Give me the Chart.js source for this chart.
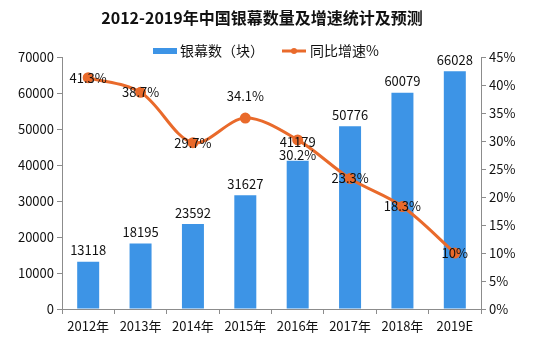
<!DOCTYPE html>
<html><head><meta charset="utf-8">
<script src="https://cdn.jsdelivr.net/npm/chart.js@4.4.0/dist/chart.umd.min.js"></script>
<style>html,body{margin:0;padding:0;background:#fff}#c{display:block}</style>
</head><body>
<canvas id="c" width="545" height="360"></canvas>
<script>
const categories = ['2012年','2013年','2014年','2015年','2016年','2017年','2018年','2019E'];
const screens = [13118,18195,23592,31627,41179,50776,60079,66028];
const growth = [41.3,38.7,29.7,34.1,30.2,23.3,18.3,10];
const growthLabels = ['41.3%','38.7%','29.7%','34.1%','30.2%','23.3%','18.3%','10%'];
const leftTicks = [0,10000,20000,30000,40000,50000,60000,70000];
const rightTicks = [0,5,10,15,20,25,30,35,40,45];

const FONT = '"Noto Sans CJK SC", "DejaVu Sans", sans-serif';
const BLUE = '#3D94E6';
const ORANGE = '#E96A2B';
const AX = '#8c8c8c';

const labelPlugin = {
  id:'labels',
  afterDatasetsDraw(chart){
    const ctx = chart.ctx;
    ctx.save();
    ctx.fillStyle = '#111';
    ctx.font = '13px ' + FONT;
    ctx.textAlign = 'center';
    const bm = chart.getDatasetMeta(0);
    const boffs = [0,0,0,0,-7,0,0,0];
    bm.data.forEach((el,i)=>{
      ctx.textBaseline = 'bottom';
      ctx.fillText(String(screens[i]), el.x, el.y - 5 + boffs[i]);
    });
    const lm = chart.getDatasetMeta(1);
    const offs = [0,0,0,-22,15,0,0,0];
    lm.data.forEach((el,i)=>{
      ctx.textBaseline = 'middle';
      ctx.fillText(growthLabels[i], el.x, el.y + offs[i]);
    });
    // legend
    ctx.font = '14px ' + FONT;
    ctx.textAlign = 'left';
    ctx.fillStyle = BLUE;
    ctx.fillRect(153, 48, 24, 6);
    ctx.fillStyle = '#111';
    ctx.fillText('银幕数（块）', 180, 51);
    ctx.strokeStyle = ORANGE; ctx.lineWidth = 3;
    ctx.beginPath(); ctx.moveTo(282,51); ctx.lineTo(306,51); ctx.stroke();
    ctx.fillStyle = ORANGE;
    ctx.beginPath(); ctx.arc(294,51,3,0,Math.PI*2); ctx.fill();
    ctx.fillStyle = '#111';
    ctx.fillText('同比增速%', 310, 51);
    // title
    ctx.font = 'bold 16px ' + FONT;
    ctx.textAlign = 'center';
    ctx.fillText('2012-2019年中国银幕数量及增速统计及预测', 262, 18);
    ctx.restore();
  }
};

new Chart(document.getElementById('c'), {
  data:{
    labels: categories,
    datasets:[
      {type:'bar', data: screens, backgroundColor: BLUE, yAxisID:'y', categoryPercentage:1, barPercentage:0.42, order:2},
      {type:'line', data: growth, borderColor: ORANGE, backgroundColor: ORANGE, borderWidth:3, pointRadius:4, pointBackgroundColor: ORANGE, tension:0.33, yAxisID:'y1', order:1}
    ]
  },
  options:{
    responsive:false, animation:false,
    layout:{padding:{top:57,left:0,right:0,bottom:0}},
    plugins:{legend:{display:false}, tooltip:{enabled:false}},
    scales:{
      x:{
        grid:{drawOnChartArea:false, drawTicks:true, tickLength:5, color:AX, offset:true},
        border:{display:true, color:AX},
        ticks:{color:'#111', font:{size:13, family:FONT}, padding:4, maxRotation:0, autoSkip:false},
        afterFit(s){ s.height = 51; }
      },
      y:{
        position:'left', min:0, max:70000,
        afterBuildTicks(s){ s.ticks = leftTicks.map(v=>({value:v})); },
        grid:{drawOnChartArea:false, drawTicks:true, tickLength:5, color:AX},
        border:{display:true, color:AX},
        ticks:{color:'#111', font:{size:13, family:FONT}, padding:3, callback:v=>String(v)},
        afterFit(s){ s.width = 62; }
      },
      y1:{
        position:'right', min:0, max:45,
        afterBuildTicks(s){ s.ticks = rightTicks.map(v=>({value:v})); },
        grid:{drawOnChartArea:false, drawTicks:true, tickLength:5, color:AX},
        border:{display:true, color:AX},
        ticks:{color:'#111', font:{size:13, family:FONT}, padding:3, callback:v=>v+'%'},
        afterFit(s){ s.width = 64; }
      }
    }
  },
  plugins:[labelPlugin]
});
</script>
</body></html>
